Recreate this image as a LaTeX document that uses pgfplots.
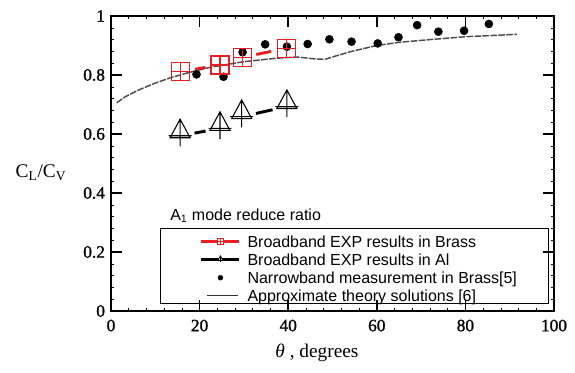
\documentclass[border=0pt]{standalone}
\usepackage{pgfplots}
\pgfplotsset{compat=1.18}
\usepackage{fontspec}
\setmainfont{Liberation Serif}
\newfontfamily\arial{Liberation Sans}
\newfontfamily\tickfont[FakeBold=1.2]{Liberation Serif}
\definecolor{brassred}{RGB}{232,30,38}

\pgfdeclareplotmark{sqplus}{%
  \pgfpathrectangle{\pgfpoint{-\pgfplotmarksize}{-\pgfplotmarksize}}{\pgfpoint{2\pgfplotmarksize}{2\pgfplotmarksize}}%
  \pgfpathmoveto{\pgfpoint{-\pgfplotmarksize}{0pt}}\pgfpathlineto{\pgfpoint{\pgfplotmarksize}{0pt}}%
  \pgfpathmoveto{\pgfpoint{0pt}{-\pgfplotmarksize}}\pgfpathlineto{\pgfpoint{0pt}{\pgfplotmarksize}}%
  \pgfusepathqstroke}
\pgfdeclareplotmark{triplus}{%
  \pgfpathmoveto{\pgfpoint{0pt}{1.45\pgfplotmarksize}}%
  \pgfpathlineto{\pgfpoint{-0.87\pgfplotmarksize}{-0.17\pgfplotmarksize}}%
  \pgfpathlineto{\pgfpoint{0.87\pgfplotmarksize}{-0.17\pgfplotmarksize}}%
  \pgfpathclose
  \pgfpathmoveto{\pgfpoint{-\pgfplotmarksize}{0pt}}\pgfpathlineto{\pgfpoint{\pgfplotmarksize}{0pt}}%
  \pgfpathmoveto{\pgfpoint{0pt}{-0.93\pgfplotmarksize}}\pgfpathlineto{\pgfpoint{0pt}{1.45\pgfplotmarksize}}%
  \pgfusepathqstroke}

\begin{document}
\begin{tikzpicture}
\begin{axis}[
  scale only axis, width=332.25pt, height=221.25pt,
  xmin=0, xmax=100, ymin=0, ymax=1,
  xtick={0,20,40,60,80,100}, ytick={0,0.2,0.4,0.6,0.8,1},
  xticklabels={{\tickfont 0},{\tickfont 20},{\tickfont 40},{\tickfont 60},{\tickfont 80},{\tickfont 100}},
  yticklabels={{\tickfont 0},{\tickfont 0.2},{\tickfont 0.4},{\tickfont 0.6},{\tickfont 0.8},{\tickfont 1}},
  tick align=inside, major tick length=8pt, minor tick length=2.5pt,
  minor x tick num=4, minor y tick num=4,
  axis line style={line width=1.6pt},
  major tick style={black, line width=1.2pt},
  minor tick style={black, line width=0.4pt},
  ticklabel style={font=\fontsize{13}{14}\selectfont},
  xticklabel shift=3pt, yticklabel shift=1pt,
  clip=false,
  legend cell align=left,
  legend style={at={(rel axis cs:0.2009,0.2654)}, anchor=north west, draw=none, fill=none,
    inner sep=0pt, outer sep=0pt, row sep=0pt,
    font=\fontsize{12}{13.5}\selectfont,
    nodes={inner sep=0pt, text height=11pt, text depth=2.5pt},
    /tikz/every odd column/.append style={column sep=5pt}},
]
% legend images
\addlegendimage{legend image code/.code={
  \draw[brassred, line width=2.2pt] (0cm,0cm) -- (0.5cm-2.2pt,0cm);
  \draw[brassred, line width=2.2pt] (0.5cm+2.2pt,0cm) -- (1cm,0cm);
  \draw[brassred, line width=0.5pt] plot[only marks, mark=sqplus, mark size=2.2pt] coordinates {(0.5cm,0cm)};}}
\addlegendentry{\arial Broadband EXP results in Brass}
\addlegendimage{legend image code/.code={
  \draw[black, line width=2.2pt] (0cm,0cm) -- (1cm,0cm);
  \draw[black, line width=0.5pt, fill=white] (0.5cm,2.9pt) -- (0.5cm-1.75pt,-0.35pt) -- (0.5cm+1.75pt,-0.35pt) -- cycle;
  \draw[black, line width=0.5pt] (0.5cm,-1.9pt) -- (0.5cm,2.9pt);}}
\addlegendentry{\arial Broadband EXP results in Al}
\addlegendimage{legend image code/.code={
  \fill[black] (0.5cm,0cm) circle (1.8pt);}}
\addlegendentry{\arial Narrowband measurement in Brass[5]}
\addlegendimage{legend image code/.code={
  \draw[black!80, line width=0.5pt] (0.15cm,0cm) -- (0.95cm,0cm);}}
\addlegendentry{\arial Approximate theory solutions [6]}

% theory curve
\addplot[black!70, line width=1.1pt, dash pattern=on 5pt off 1pt, forget plot] coordinates {
 (1.3,0.706) (3.2,0.726) (6.2,0.749) (9.9,0.772) (13.7,0.792) (17,0.806)
 (22.3,0.826) (29.9,0.845) (37.4,0.857) (42,0.861) (45.7,0.855) (48.3,0.853)
 (50.2,0.862) (54,0.879) (60,0.900) (65.2,0.911) (72.8,0.921) (80.3,0.930)
 (84.8,0.933) (91.6,0.938)};

% narrowband dots
\addplot[only marks, mark=*, mark size=3pt, black, forget plot] coordinates {
 (19.3,0.802) (25.4,0.794) (29.7,0.877) (34.8,0.904) (39.7,0.896) (44.4,0.905)
 (49.3,0.921) (54.3,0.913) (60.2,0.907) (64.9,0.928) (69.1,0.969) (73.9,0.947)
 (79.7,0.950) (85.3,0.973)};

% brass broadband
\addplot[brassred, line width=2.2pt, shorten <=11pt, shorten >=11pt, forget plot] coordinates {(15.7,0.811) (24.6,0.834)};
\addplot[brassred, line width=2.2pt, shorten <=10.5pt, shorten >=12pt, forget plot] coordinates {(29.7,0.860) (39.7,0.891)};
\addplot[only marks, brassred, mark=sqplus, mark size=6.75pt, mark options={line width=0.9pt}, forget plot] coordinates {
 (15.7,0.811) (24.6,0.834) (29.7,0.860) (39.7,0.891)};

% Al broadband
\addplot[black, line width=2.2pt, shorten <=11pt, shorten >=11pt, forget plot] coordinates {(15.6,0.594) (24.6,0.619)};
\addplot[black, line width=2.2pt, shorten <=11pt, shorten >=11pt, forget plot] coordinates {(29.5,0.659) (39.7,0.693)};
\addplot[only marks, black, mark=triplus, mark size=8.6pt, mark options={line width=0.8pt}, forget plot] coordinates {
 (15.6,0.594) (24.6,0.619) (29.5,0.659) (39.7,0.693)};

% legend box and title
\draw[line width=0.6pt] (rel axis cs:0.1106,0.0247) rectangle (rel axis cs:0.987,0.280);
\node[anchor=base west, font=\arial\fontsize{12}{13.5}\selectfont, inner sep=0pt] at (rel axis cs:0.1332,0.3068) {A\textsubscript{1} mode reduce ratio};

% axis labels
\node[font=\fontsize{14.5}{16}\selectfont, inner sep=0pt] at ([xshift=-52.5pt]rel axis cs:0,0.468) {C\textsubscript{L}/C\textsubscript{V}};
\node[font=\fontsize{14.5}{16}\selectfont, inner sep=0pt] at ([yshift=-31pt]rel axis cs:0.465,0) {{\itshape θ} , degrees};

\coordinate (ll) at (rel axis cs:0,0);
\coordinate (ur) at (rel axis cs:1,1);
\end{axis}
\pgfresetboundingbox
\path ([shift={(-83.25pt,-45.75pt)}]ll) rectangle ([shift={(15.75pt,12pt)}]ur);
\end{tikzpicture}
\end{document}
